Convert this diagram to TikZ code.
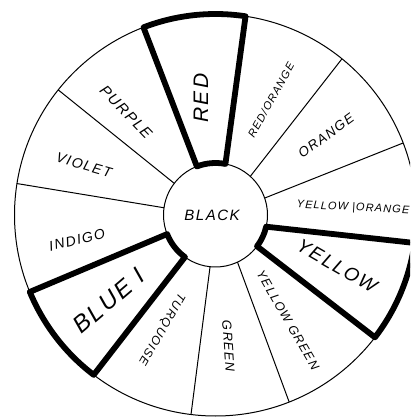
\documentclass[tikz,border=0pt]{standalone}
\usepackage{fontspec}
\setmainfont{Liberation Sans}[LetterSpace=10]
\usetikzlibrary{calc}
\begin{document}
\begin{tikzpicture}[x=1pt,y=1pt,
  thinline/.style={line width=1pt,black},
  thickline/.style={line width=5.8pt,black,line join=round},
  lbl/.style={font=\itshape,inner sep=0pt}]
\useasboundingbox (0,0) rectangle (410,418);
\clip (0,0) rectangle (410,418);
\fill[white] (0,0) rectangle (410,418);
\coordinate (C) at (215.5,203);
\def\ri{52}
\def\ro{201}
% outer and inner circles
\draw[thinline] (C) circle[radius=\ro];
\draw[thinline] (C) circle[radius=\ri];
% spokes (inner angle / outer angle)
\foreach \a/\b in {111/111, 79/81.4, 48/51, 19/21, -13/-8, -37/-37.5, -65/-68.5, -96/-97, 234/232.7, 201.5/202.5, 172/171, 142.5/141.5}{
  \draw[thinline] ($(C)+(\a:\ri)$) -- ($(C)+(\b:\ro)$);
}
% thick segments
\draw[thickline] ($(C)+(111:\ri)$) -- ($(C)+(111:\ro)$) arc[start angle=111,end angle=81.4,radius=\ro] -- ($(C)+(79:\ri)$) arc[start angle=79,end angle=111,radius=\ri] -- cycle;
\draw[thickline] ($(C)+(-13:\ri)$) -- ($(C)+(-8:\ro)$) arc[start angle=-8,end angle=-37.5,radius=\ro] -- ($(C)+(-37:\ri)$) arc[start angle=-37,end angle=-13,radius=\ri] -- cycle;
\draw[thickline] ($(C)+(201.5:\ri)$) -- ($(C)+(202.5:\ro)$) arc[start angle=202.5,end angle=232.7,radius=\ro] -- ($(C)+(234:\ri)$) arc[start angle=234,end angle=201.5,radius=\ri] -- cycle;
% labels
\node[lbl,font=\itshape\fontsize{15}{15}\selectfont] (black) at (212,203) {BLACK};
\node[lbl,font=\itshape\fontsize{21}{21}\selectfont,rotate=90] (red) at (201,320) {RED};
\node[lbl,font=\itshape\fontsize{11}{11}\selectfont,rotate=61] (redorange) at (271,318) {RED/ORANGE};
\node[lbl,font=\itshape\fontsize{13.5}{13.5}\selectfont,rotate=36] (orange) at (326,282) {ORANGE};
\node[lbl,font=\itshape\fontsize{11}{11}\selectfont,rotate=-3] (yelloworange) at (353,210) {YELLOW |ORANGE};
\node[lbl,font=\itshape\fontsize{19}{19}\selectfont,rotate=-30] (yellow) at (337,152) {YELLOW};
\node[lbl,font=\itshape\fontsize{12.5}{12.5}\selectfont,rotate=-60] (yellowgreen) at (288,98) {YELLOW GREEN};
\node[lbl,font=\itshape\fontsize{13}{13}\selectfont,rotate=-86] (green) at (228.5,72) {GREEN};
\node[lbl,font=\itshape\fontsize{12}{12}\selectfont,rotate=-120] (turquoise) at (161.5,89) {TURQUOISE};
\node[lbl,font=\itshape\fontsize{24}{24}\selectfont,rotate=40.5] (blue) at (109,117) {BLUE I};
\node[lbl,font=\itshape\fontsize{14}{14}\selectfont,rotate=13] (indigo) at (77,178) {INDIGO};
\node[lbl,font=\itshape\fontsize{14}{14}\selectfont,rotate=-16] (violet) at (84,253) {VIOLET};
\node[lbl,font=\itshape\fontsize{15}{15}\selectfont,rotate=-46] (purple) at (126,306) {PURPLE};
\end{tikzpicture}
\end{document}
